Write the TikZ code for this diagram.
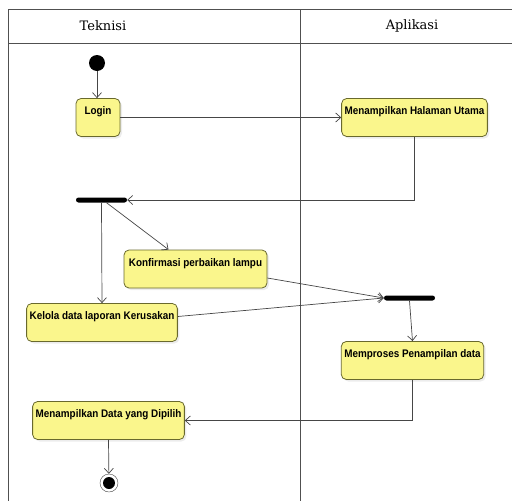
\documentclass[tikz,border=0pt]{standalone}
\usepackage{fontspec}
\usepackage{xcolor}
\usepackage{tikz}
\usetikzlibrary{positioning,arrows.meta,shadows}
\newfontfamily\actfont{Liberation Sans}[FakeStretch=0.9]
\newfontfamily\lanefont{DejaVu Serif}
\definecolor{actfill}{RGB}{250,246,140}
\definecolor{actline}{RGB}{105,105,45}
\definecolor{flowline}{RGB}{70,70,70}
\definecolor{laneline}{RGB}{80,80,80}

\begin{document}
\begin{tikzpicture}[x=1pt, y=-1pt,
            activity/.style={draw=actline, fill=actfill, rounded corners=5pt, line width=0.8pt,
                inner sep=3pt, text height=13pt, text depth=19pt,
                font=\actfont\bfseries\fontsize{11}{13}\selectfont,
                drop shadow={shadow xshift=2pt, shadow yshift=-2pt, opacity=0.15}},
            bar/.style={fill=black, rounded corners=2.5pt, minimum width=51pt, minimum height=5pt, inner sep=0pt},
            startstate/.style={circle, fill=black, minimum size=16pt, inner sep=0pt},
            endstate/.style={circle, draw=flowline, fill=white, minimum size=18pt, inner sep=0pt,
                path picture={\fill[black] (path picture bounding box.center) circle (6pt);}},
            flow/.style={draw=flowline, line width=0.7pt, -{Straight Barb[length=5pt,width=9pt]}},
            lane/.style={draw=laneline, line width=0.7pt},
            title/.style={font=\lanefont\fontsize{13}{16}\selectfont}]
            \clip (0,0) rectangle (512,501);
            \draw[lane] (8,505) -- (8,9) -- (515,9);
            \draw[lane] (8,43) -- (515,43);
            \draw[lane] (300,9) -- (300,505);
            \node (tek) [title] at (103,26) {Teknisi};
            \node (apl) [title] at (412,26) {Aplikasi};

            \node (start) [startstate] at (97,63) {};
            \node (login) [activity, minimum width=44pt] at (98,117.5) {Login};
            \node (utama) [activity, minimum width=145pt] at (414.5,117.5) {Menampilkan Halaman Utama};
            \node (fork) [bar] at (101.5,200) {};
            \node (konf) [activity, minimum width=143pt] at (195.5,269) {Konfirmasi perbaikan lampu};
            \node (kelola) [activity, minimum width=150pt] at (102,322.5) {Kelola data laporan Kerusakan};
            \node (join) [bar] at (409.5,298) {};
            \node (proses) [activity, minimum width=141pt] at (412.5,360.5) {Memproses Penampilan data};
            \node (pilih) [activity, minimum width=151pt] at (108.5,420.5) {Menampilkan Data yang Dipilih};
            \node (end) [endstate] at (109,483) {};

            \draw[flow] (start) -- (start |- login.north);
            \draw[flow] (login) -- (utama);
            \draw[flow] (utama.south) |- (fork.east);
            \draw[flow] ([xshift=5pt]fork.south) -- ([xshift=-27pt]konf.north);
            \draw[flow] (fork.south) -- (kelola.north);
            \draw[flow] ([yshift=-9pt]konf.east) -- (join.west);
            \draw[flow] ([yshift=6pt]kelola.east) -- (join.west);
            \draw[flow] (join.south) -- (proses.north);
            \draw[flow] (proses.south) |- (pilih.east);
            \draw[flow] (pilih.south) -- (end);
        \end{tikzpicture}
\end{document}
